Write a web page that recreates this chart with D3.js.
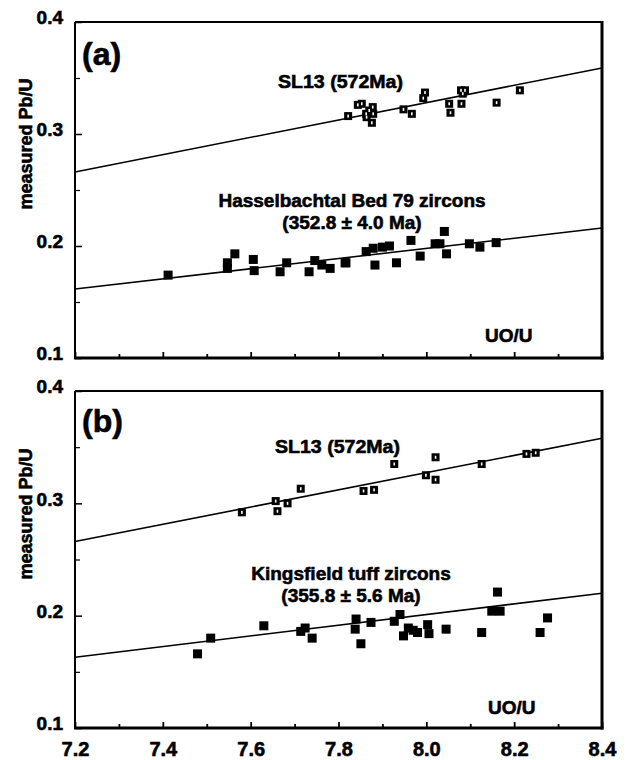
<!DOCTYPE html>
<html>
<head>
<meta charset="utf-8">
<script src="https://cdn.jsdelivr.net/npm/d3@7"></script>
<style>
  html, body { margin: 0; padding: 0; background: #fff; }
  svg text { font-family: "Liberation Sans", Arial, Helvetica, sans-serif; font-weight: bold; fill: #000; stroke: #000; stroke-width: 0.6px; }
</style>
</head>
<body>
<svg id="chart" width="627" height="760"></svg>
<script>
// ---------- data ----------
const xTicks = [7.2, 7.4, 7.6, 7.8, 8.0, 8.2, 8.4];
const xMinorTicks = [7.3, 7.5, 7.7, 7.9, 8.1, 8.3];
const yTicks = [0.1, 0.2, 0.3, 0.4];
const yMinorTicks = [0.15, 0.25, 0.35];

// panel (a) SL13 standard
const sl13aX = [7.822, 7.844, 7.853, 7.863, 7.864, 7.878, 7.879, 7.876, 7.870, 7.948, 7.967, 7.997, 7.993, 8.052, 8.055, 8.079, 8.088, 8.080, 8.083, 8.160, 8.213];
const sl13aY = [0.316, 0.326, 0.327, 0.318, 0.315, 0.324, 0.318, 0.310, 0.321, 0.322, 0.318, 0.337, 0.332, 0.327, 0.319, 0.339, 0.339, 0.327, 0.336, 0.328, 0.339];
// panel (a) Hasselbachtal Bed 79 zircons
const hassX = [7.412, 7.547, 7.547, 7.564, 7.606, 7.608, 7.667, 7.682, 7.733, 7.746, 7.762, 7.781, 7.815, 7.817, 7.863, 7.879, 7.883, 7.900, 7.916, 7.932, 7.965, 7.986, 8.020, 8.031, 8.041, 8.046, 8.098, 8.122, 8.159];
const hassY = [0.174, 0.185, 0.180, 0.193, 0.188, 0.178, 0.177, 0.185, 0.177, 0.187, 0.183, 0.180, 0.185, 0.185, 0.195, 0.198, 0.183, 0.199, 0.200, 0.185, 0.205, 0.191, 0.202, 0.202, 0.213, 0.193, 0.202, 0.199, 0.203];
// panel (b) SL13 standard
const sl13bX = [7.580, 7.657, 7.661, 7.684, 7.714, 7.857, 7.881, 7.927, 7.999, 8.021, 8.021, 8.126, 8.228, 8.249];
const sl13bY = [0.292, 0.302, 0.293, 0.300, 0.313, 0.311, 0.312, 0.335, 0.325, 0.341, 0.321, 0.335, 0.344, 0.345];
// panel (b) Kingsfield tuff zircons
const kingX = [7.479, 7.509, 7.630, 7.714, 7.724, 7.740, 7.838, 7.840, 7.851, 7.874, 7.927, 7.940, 7.948, 7.959, 7.970, 7.980, 8.003, 8.006, 8.045, 8.126, 8.149, 8.162, 8.168, 8.259, 8.276];
const kingY = [0.166, 0.180, 0.191, 0.186, 0.189, 0.180, 0.188, 0.197, 0.175, 0.194, 0.195, 0.201, 0.182, 0.189, 0.187, 0.185, 0.192, 0.184, 0.188, 0.185, 0.204, 0.221, 0.204, 0.185, 0.198];

// regression lines (UO/U, Pb/U)
const lineSL13a = [[7.2, 0.266], [8.4, 0.359]];
const lineHass = [[7.2, 0.1616], [8.4, 0.216]];
const lineSL13b = [[7.2, 0.266], [8.4, 0.358]];
const lineKing = [[7.2, 0.163], [8.4, 0.220]];

// ---------- drawing ----------
const svg = d3.select("#chart");
svg.append("rect").attr("width", 627).attr("height", 760).attr("fill", "#fff");

const x = d3.scaleLinear().domain([7.2, 8.4]).range([75, 602]);

const panels = [
  { top: 22, bottom: 358, tag: "(a)", tagY: 65, showX: false,
    std: [sl13aX, sl13aY], smp: [hassX, hassY], lines: [lineSL13a, lineHass],
    stdLabel: { x: 278, y: 88, t: "SL13 (572Ma)" },
    smpLabel: { x: 352, y1: 207, y2: 229, t1: "Hasselbachtal Bed 79 zircons", t2: "(352.8 \u00B1 4.0 Ma)" },
    uo: { x: 485, y: 342 }, yLab: 144 },
  { top: 391, bottom: 728, tag: "(b)", tagY: 432, showX: true,
    std: [sl13bX, sl13bY], smp: [kingX, kingY], lines: [lineSL13b, lineKing],
    stdLabel: { x: 275, y: 453, t: "SL13 (572Ma)" },
    smpLabel: { x: 351, y1: 580, y2: 602, t1: "Kingsfield tuff zircons", t2: "(355.8 \u00B1 5.6 Ma)" },
    uo: { x: 488, y: 714 }, yLab: 514 }
];

const line = d3.line();

panels.forEach(p => {
  const y = d3.scaleLinear().domain([0.1, 0.4]).range([p.bottom, p.top]);
  const g = svg.append("g");

  // y major ticks + labels
  const yAx = d3.axisLeft(y).tickValues(yTicks).tickSize(-7).tickPadding(12)
    .tickFormat(d3.format(".1f"));
  const ya = g.append("g").attr("transform", "translate(75,0)").call(yAx);
  ya.select(".domain").remove();
  ya.selectAll("line").attr("stroke", "#000").attr("stroke-width", 1.5);
  ya.selectAll("text").style("font-size", "19px").attr("dy", "0.1em").attr("x", -12)
    .style("font-family", "'Liberation Sans', Arial, sans-serif").style("font-weight", "bold");
  // y minor ticks
  const yMin = g.append("g").attr("transform", "translate(75,0)")
    .call(d3.axisLeft(y).tickValues(yMinorTicks).tickSize(-5).tickFormat(""));
  yMin.select(".domain").remove();
  yMin.selectAll("line").attr("stroke", "#000").attr("stroke-width", 1.2);

  // x ticks
  const xAx = d3.axisBottom(x).tickValues(xTicks).tickSize(-6).tickPadding(14)
    .tickFormat(p.showX ? d3.format(".1f") : "");
  const xa = g.append("g").attr("transform", `translate(0,${p.bottom})`).call(xAx);
  xa.select(".domain").remove();
  xa.selectAll("line").attr("stroke", "#000").attr("stroke-width", 1.8);
  xa.selectAll("text").style("font-size", "20px")
    .style("font-family", "'Liberation Sans', Arial, sans-serif").style("font-weight", "bold");
  const xMin = g.append("g").attr("transform", `translate(0,${p.bottom})`)
    .call(d3.axisBottom(x).tickValues(xMinorTicks).tickSize(-4).tickFormat(""));
  xMin.select(".domain").remove();
  xMin.selectAll("line").attr("stroke", "#000").attr("stroke-width", 1.8);

  // frame
  g.append("line").attr("x1", 75).attr("x2", 602).attr("y1", p.top).attr("y2", p.top)
    .attr("stroke", "#000").attr("stroke-width", 2);
  g.append("line").attr("x1", 75).attr("x2", 75).attr("y1", p.top).attr("y2", p.bottom)
    .attr("stroke", "#000").attr("stroke-width", 2);
  g.append("line").attr("x1", 602).attr("x2", 602).attr("y1", p.top - 1).attr("y2", p.bottom + 1.5)
    .attr("stroke", "#000").attr("stroke-width", 3);
  g.append("line").attr("x1", 74).attr("x2", 603.5).attr("y1", p.bottom).attr("y2", p.bottom)
    .attr("stroke", "#000").attr("stroke-width", 3);

  // regression lines
  p.lines.forEach(l => {
    g.append("path").attr("d", line(l.map(d => [x(d[0]), y(d[1])])))
      .attr("fill", "none").attr("stroke", "#000").attr("stroke-width", 1.6);
  });

  // standard (SL13) markers: small black square with white inner mark
  const stdData = p.std[0].map((v, i) => [v, p.std[1][i]]);
  const sg = g.append("g");
  sg.selectAll("rect.o").data(stdData).join("rect")
    .attr("x", d => x(d[0]) - 4).attr("y", d => y(d[1]) - 4)
    .attr("width", 8).attr("height", 8).attr("fill", "#000");
  sg.selectAll("rect.i").data(stdData).join("rect")
    .attr("x", d => x(d[0]) - 0.8).attr("y", d => y(d[1]) - 1.5)
    .attr("width", 1.6).attr("height", 3).attr("fill", "#fff");

  // sample markers: solid squares
  const smpData = p.smp[0].map((v, i) => [v, p.smp[1][i]]);
  g.append("g").selectAll("rect").data(smpData).join("rect")
    .attr("x", d => x(d[0]) - 4.5).attr("y", d => y(d[1]) - 4.5)
    .attr("width", 9).attr("height", 9).attr("fill", "#000");

  // texts
  g.append("text").attr("x", 82).attr("y", p.tagY).style("font-size", "32px").text(p.tag);
  g.append("text").attr("x", p.stdLabel.x).attr("y", p.stdLabel.y).style("font-size", "19px")
    .attr("textLength", 125).attr("lengthAdjust", "spacingAndGlyphs").text(p.stdLabel.t);
  g.append("text").attr("x", p.smpLabel.x).attr("y", p.smpLabel.y1).attr("text-anchor", "middle")
    .style("font-size", "19px").text(p.smpLabel.t1);
  g.append("text").attr("x", p.smpLabel.x).attr("y", p.smpLabel.y2).attr("text-anchor", "middle")
    .style("font-size", "19px").text(p.smpLabel.t2);
  g.append("text").attr("x", p.uo.x).attr("y", p.uo.y).style("font-size", "19px").text("UO/U");
  g.append("text").attr("transform", `translate(32,${p.yLab}) rotate(-90)`)
    .attr("text-anchor", "middle").style("font-size", "18px").text("measured Pb/U");
});
</script>
</body>
</html>
